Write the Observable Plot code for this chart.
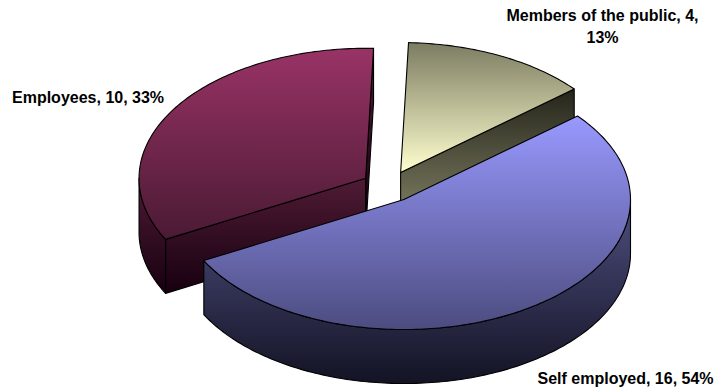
<!DOCTYPE html>
<html>
<head>
<meta charset="utf-8">
<script src="https://cdn.jsdelivr.net/npm/d3@7"></script>
<script src="https://cdn.jsdelivr.net/npm/@observablehq/plot@0.6"></script>
<style>
  html, body { margin: 0; padding: 0; background: #fff; }
  svg { display: block; }
</style>
</head>
<body>
<div id="chart"></div>
<script>
// Who the respondents are, drawn in clockwise order
const categories = ["Members of the public", "Self employed", "Employees"];
const counts = [4, 16, 10];
const percents = [13, 54, 33];

// Pie layout: start angle, explode ratio and extrusion depth (pie radius = 1)
const startAngle = 2;
const explode = 0.12;
const depth = 54 / 130;
const rad = Math.PI / 180;
const total = d3.sum(counts);

// Top and side shading per slice
const shades = [
  {top: ["#7c7c62", "#ffffcf"], side: ["#24241a", "#858569"]},
  {top: ["#9999ff", "#4c4c80"], side: ["#4e4e80", "#131324"]},
  {top: ["#993366", "#4a1a33"], side: ["#4f1b35", "#170010"]}
];

let cursor = startAngle;
const slices = categories.map((name, i) => {
  const a0 = cursor;
  const a1 = cursor + (counts[i] / total) * 360;
  cursor = a1;
  const mid = ((a0 + a1) / 2) * rad;
  return {i, name, a0, a1, ox: explode * Math.sin(mid), oy: explode * Math.cos(mid)};
});

const rimPoint = (s, a, drop = 0) => ({
  x: s.ox + Math.sin(a * rad),
  y: s.oy + Math.cos(a * rad) - drop
});
const hub = (s, drop = 0) => ({x: s.ox, y: s.oy - drop});
const arc = (s, from, to, drop = 0) => {
  const n = Math.max(2, Math.ceil(Math.abs(to - from)));
  return d3.range(n + 1).map((k) => rimPoint(s, from + ((to - from) * k) / n, drop));
};

// A cut face shows when it turns towards the viewer
const faceShows = (angle, isStart) => (isStart ? Math.sin(angle * rad) < 0 : Math.sin(angle * rad) > 0);
const cutFace = (s, angle) => {
  const p = [hub(s), rimPoint(s, angle), rimPoint(s, angle, depth), hub(s, depth)];
  return [...p, p[0]];
};
const rimWall = (s) => {
  const from = Math.max(s.a0, 90);
  const to = Math.min(s.a1, 270);
  if (from >= to) return null;
  const p = [...arc(s, from, to), ...arc(s, to, from, depth)];
  return [...p, p[0]];
};
const topFace = (s) => [hub(s), ...arc(s, s.a0, s.a1), hub(s)];

const face = (points, fill) =>
  Plot.line(points, {x: "x", y: "y", fill, stroke: "#000", strokeWidth: 1.1, strokeLinejoin: "round"});

// Back slices first, the front slice paints over them
const order = [2, 0, 1];
const faces = order.flatMap((i) => {
  const s = slices[i];
  const side = `url(#side-${i})`;
  const marks = [];
  if (faceShows(s.a1, false)) marks.push(face(cutFace(s, s.a1), side));
  if (faceShows(s.a0, true)) marks.push(face(cutFace(s, s.a0), side));
  const wall = rimWall(s);
  if (wall) marks.push(face(wall, side));
  marks.push(face(topFace(s), `url(#top-${i})`));
  return marks;
});

const labelText = categories.map((name, i) => `${name}, ${counts[i]}, ${percents[i]}%`);
const labelFont = {fontFamily: "Liberation Sans, Arial, sans-serif", fontWeight: "bold", fontSize: 16, fill: "#000"};
const label = (text, opts) => Plot.text([text], {text: (d) => d, frameAnchor: "top-left", lineHeight: 1.35, ...labelFont, ...opts});

const plot = Plot.plot({
  width: 717,
  height: 390,
  margin: 0,
  x: {domain: [-1, 1], range: [161.6, 614.8], axis: null},
  y: {domain: [-1, 1], range: [316.1, 56.1], axis: null},
  style: {background: "#fff"},
  marks: [
    ...faces,
    label(labelText[0].replace(", 13%", ",\n13%"), {textAnchor: "middle", dx: 602, dy: 5.4}),
    label(labelText[1], {textAnchor: "start", dx: 537, dy: 367.7}),
    label(labelText[2], {textAnchor: "start", dx: 11.5, dy: 87.4})
  ]
});

// Vertical gradients referenced by the faces above
const defs = d3.create("svg:defs");
shades.forEach((shade, i) => {
  for (const part of ["top", "side"]) {
    const g = defs.append("linearGradient").attr("id", `${part}-${i}`)
      .attr("x1", 0).attr("y1", 0).attr("x2", 0).attr("y2", 1);
    g.append("stop").attr("offset", "0%").attr("stop-color", shade[part][0]);
    g.append("stop").attr("offset", "100%").attr("stop-color", shade[part][1]);
  }
});
plot.insertBefore(defs.node(), plot.firstChild);
document.getElementById("chart").appendChild(plot);
</script>
</body>
</html>
